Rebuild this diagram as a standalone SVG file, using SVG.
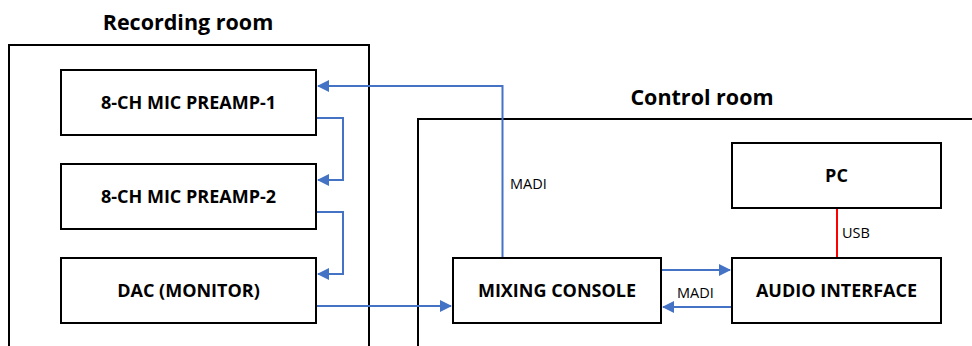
<svg xmlns="http://www.w3.org/2000/svg" width="972" height="346" viewBox="0 0 972 346">
<style>
.room{fill:none;stroke:#000;stroke-width:2}
.box{fill:#fff;stroke:#000;stroke-width:2}
.lbl{font-family:"Open Sans","Liberation Sans",sans-serif;font-weight:bold;font-size:18px;text-anchor:middle;fill:#000}
.title{font-family:"Open Sans","Liberation Sans",sans-serif;font-weight:bold;font-size:21.5px;text-anchor:middle;fill:#000}
.small{font-family:"Open Sans","Liberation Sans",sans-serif;font-size:14.5px;fill:#000}
.con{fill:none;stroke:#4472C4;stroke-width:2}
.usb{fill:none;stroke:#FF0000;stroke-width:2}
</style>
<defs>
<marker id="ah" markerWidth="12" markerHeight="12" refX="11" refY="6" orient="auto" markerUnits="userSpaceOnUse">
<path d="M0,0 L12,6 L0,12 Z" fill="#4472C4"/>
</marker>
</defs>
<g id="recording-room">
<rect class="room" x="9" y="45" width="360" height="310"/>
<text class="title" x="188" y="30">Recording room</text>
</g>
<g id="control-room">
<rect class="room" x="418" y="119" width="570" height="240"/>
<text class="title" x="702" y="105">Control room</text>
</g>
<g id="connectors">
<path class="con" d="M502.5,258 V86 H318" marker-end="url(#ah)"/>
<path class="con" d="M316,118 H343 V180 H318" marker-end="url(#ah)"/>
<path class="con" d="M316,212 H343 V274 H318" marker-end="url(#ah)"/>
<path class="con" d="M316,306 H451" marker-end="url(#ah)"/>
<path class="con" d="M661,270 H730" marker-end="url(#ah)"/>
<path class="con" d="M732,307 H663" marker-end="url(#ah)"/>
<path class="usb" d="M837,208 V258"/>
<text class="small" x="510" y="189">MADI</text>
<text class="small" x="677" y="298">MADI</text>
<text class="small" x="842" y="238">USB</text>
</g>
<g id="preamp1">
<rect class="box" x="61" y="70" width="255" height="65"/>
<text class="lbl" x="188.5" y="109">8-CH MIC PREAMP-1</text>
</g>
<g id="preamp2">
<rect class="box" x="61" y="164" width="255" height="65"/>
<text class="lbl" x="188.5" y="203">8-CH MIC PREAMP-2</text>
</g>
<g id="dac">
<rect class="box" x="61" y="258" width="255" height="65"/>
<text class="lbl" x="188.5" y="297">DAC (MONITOR)</text>
</g>
<g id="mixing-console">
<rect class="box" x="453" y="258" width="208" height="65"/>
<text class="lbl" x="557" y="297">MIXING CONSOLE</text>
</g>
<g id="pc">
<rect class="box" x="732" y="143" width="209" height="65"/>
<text class="lbl" x="836.5" y="182">PC</text>
</g>
<g id="audio-interface">
<rect class="box" x="732" y="258" width="209" height="65"/>
<text class="lbl" x="836.5" y="297">AUDIO INTERFACE</text>
</g>
</svg>
